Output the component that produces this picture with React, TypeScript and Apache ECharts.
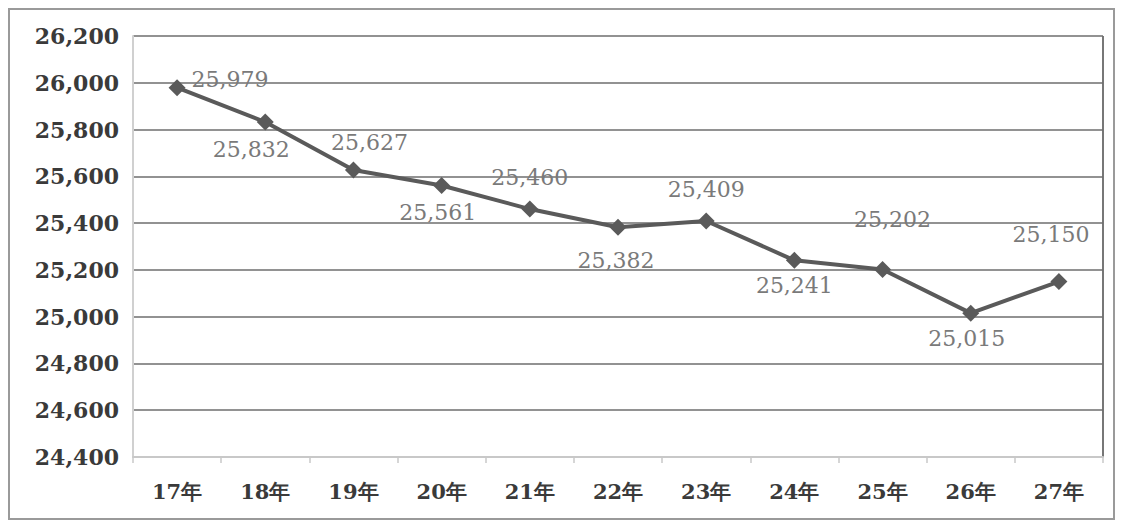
import React, { useEffect, useRef } from "react";
import * as echarts from "echarts";

const categories = ["17年", "18年", "19年", "20年", "21年", "22年", "23年", "24年", "25年", "26年", "27年"];
const values = [25979, 25832, 25627, 25561, 25460, 25382, 25409, 25241, 25202, 25015, 25150];
const labelPositions = ["right", "bottom", "top", "bottom", "top", "bottom", "top", "bottom", "top", "bottom", "top"];
const labelOffsets = [[0, -8], [-14, 2], [16, -2], [-4, 2], [0, -6], [-2, 8], [0, -6], [0, 0], [10, -24], [-4, 0], [-8, -22]];

const fmt = (v: number) => v.toLocaleString("en-US");

export default function App() {
  const ref = useRef<HTMLDivElement>(null);
  useEffect(() => {
    if (!ref.current) return;
    const chart = echarts.init(ref.current, undefined, { renderer: "svg" });
    const font = "'DejaVu Serif', 'Liberation Serif', serif";
    chart.setOption({
      animation: false,
      backgroundColor: "#ffffff",
      grid: { left: 133, right: 20, top: 36, bottom: 70, containLabel: false },
      graphic: [
        {
          type: "rect",
          shape: { x: 9, y: 9, width: 1105, height: 510 },
          style: { fill: "none", stroke: "#9a9a9a", lineWidth: 2 },
          silent: true,
        },
        {
          type: "line",
          shape: { x1: 1103, y1: 36, x2: 1103, y2: 457 },
          style: { stroke: "#777", lineWidth: 2 },
          silent: true,
        },
      ],
      xAxis: {
        type: "category",
        data: categories,
        boundaryGap: true,
        axisLine: { show: true, lineStyle: { color: "#c8c8c8", width: 2 } },
        axisTick: { show: true, length: 6, lineStyle: { color: "#c8c8c8", width: 1.5 } },
        axisLabel: { color: "#3a3a3a", fontFamily: font, fontSize: 21, fontWeight: "bold", margin: 24 },
        splitLine: { show: false },
      },
      yAxis: {
        type: "value",
        min: 24400,
        max: 26200,
        interval: 200,
        axisLine: { show: true, lineStyle: { color: "#d0d0d0", width: 2 } },
        axisTick: { show: false },
        axisLabel: {
          color: "#3a3a3a",
          fontFamily: font,
          fontSize: 22,
          fontWeight: "bold",
          margin: 14,
          formatter: (v: number) => fmt(v),
        },
        splitLine: { show: true, lineStyle: { color: "#6e6e6e", width: 1.5 } },
      },
      series: [
        {
          type: "line",
          data: values.map((v, i) => ({
            value: v,
            label: {
              position: labelPositions[i],
              offset: labelOffsets[i],
            },
          })),
          symbol: "diamond",
          symbolSize: 17,
          itemStyle: { color: "#5a5a5a" },
          lineStyle: { color: "#5a5a5a", width: 4 },
          label: {
            show: true,
            color: "#7a7a7a",
            fontFamily: font,
            fontSize: 22,
            distance: 6,
            formatter: (p: any) => fmt(p.value),
          },
        },
      ],
    });
    return () => chart.dispose();
  }, []);
  return (
    <div
      ref={ref}
      style={{ position: "fixed", left: 0, top: 0, width: 1123, height: 527 }}
    />
  );
}
